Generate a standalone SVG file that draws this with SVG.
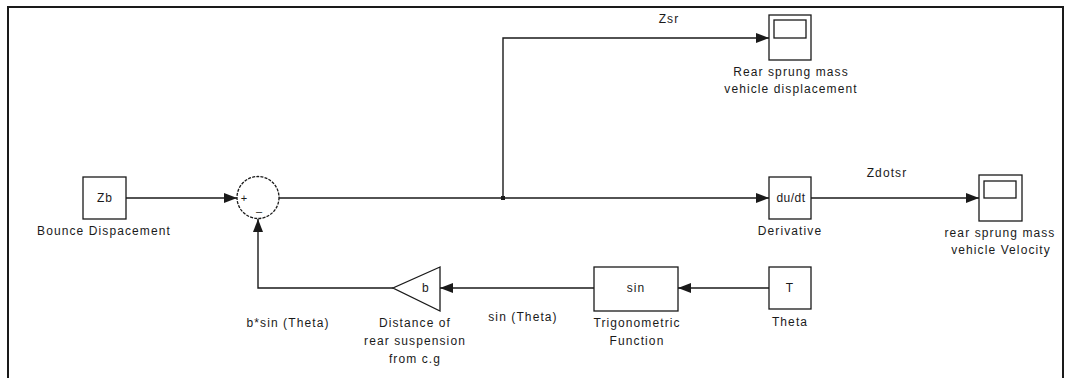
<svg xmlns="http://www.w3.org/2000/svg" width="1069" height="378" viewBox="0 0 1069 378">
<defs>
<style>
text{font-family:"Liberation Sans",Arial,sans-serif;font-size:12px;fill:#1a1a1a;text-anchor:middle;letter-spacing:1.1px}
.blk{fill:#fff;stroke:#1a1a1a;stroke-width:1.3}
.ln{fill:none;stroke:#1a1a1a;stroke-width:1.4}
</style>
<marker id="arr" viewBox="0 0 13 10" refX="13" refY="5" markerWidth="13" markerHeight="10" markerUnits="userSpaceOnUse" orient="auto">
<path d="M0,0 L13,5 L0,10 z" fill="#1a1a1a"/>
</marker>
</defs>
<rect width="1069" height="378" fill="#fff"/>
<rect x="8" y="7" width="1055" height="385" fill="none" stroke="#1a1a1a" stroke-width="2"/>

<g id="connectors">
<path class="ln" d="M126,198 H237" marker-end="url(#arr)"/>
<path class="ln" d="M279,198 H769" marker-end="url(#arr)"/>
<path class="ln" d="M503,198 V38 H769" marker-end="url(#arr)"/>
<path class="ln" d="M811,198 H979" marker-end="url(#arr)"/>
<path class="ln" d="M769,288 H678" marker-end="url(#arr)"/>
<path class="ln" d="M594,288 H440" marker-end="url(#arr)"/>
<path class="ln" d="M393,288 H258 V219" marker-end="url(#arr)"/>
<rect x="501" y="196" width="4" height="4" fill="#1a1a1a"/>
<text x="669" y="23">Zsr</text>
<text x="887" y="177">Zdotsr</text>
<text x="523" y="321">sin (Theta)</text>
<text x="288" y="327">b*sin (Theta)</text>
</g>

<g id="zb">
<rect class="blk" x="83" y="177" width="43" height="42"/>
<text x="105" y="202">Zb</text>
<text x="104" y="235">Bounce Dispacement</text>
</g>

<g id="sum">
<circle cx="258" cy="197.5" r="21" fill="#fff" stroke="#1a1a1a" stroke-width="1.3" stroke-dasharray="3 1.2"/>
<text x="244" y="202" style="font-size:11px;letter-spacing:0">+</text>
<text x="259" y="215" style="font-size:11px;letter-spacing:0">–</text>
</g>

<g id="scope1">
<rect class="blk" x="769" y="15" width="42" height="45"/>
<rect class="blk" x="774" y="20" width="32" height="18"/>
<text x="791" y="76">Rear sprung mass</text>
<text x="791" y="93">vehicle displacement</text>
</g>

<g id="derivative">
<rect class="blk" x="769" y="177" width="42" height="42"/>
<text x="791" y="202" style="letter-spacing:0.5px">du/dt</text>
<text x="790" y="235">Derivative</text>
</g>

<g id="scope2">
<rect class="blk" x="979" y="175" width="43" height="46"/>
<rect class="blk" x="984" y="181" width="32" height="17"/>
<text x="1000" y="237">rear sprung mass</text>
<text x="1001" y="254">vehicle Velocity</text>
</g>

<g id="theta">
<rect class="blk" x="769" y="267" width="42" height="42"/>
<text x="790" y="292">T</text>
<text x="790" y="326">Theta</text>
</g>

<g id="trig">
<rect class="blk" x="594" y="267" width="84" height="44"/>
<text x="636" y="292">sin</text>
<text x="637" y="327">Trigonometric</text>
<text x="637" y="345">Function</text>
</g>

<g id="gain">
<path class="blk" d="M440,267 L393,288 L440,311 Z"/>
<text x="426" y="292">b</text>
<text x="415" y="327">Distance of</text>
<text x="415" y="345">rear suspension</text>
<text x="415" y="363">from c.g</text>
</g>
</svg>
